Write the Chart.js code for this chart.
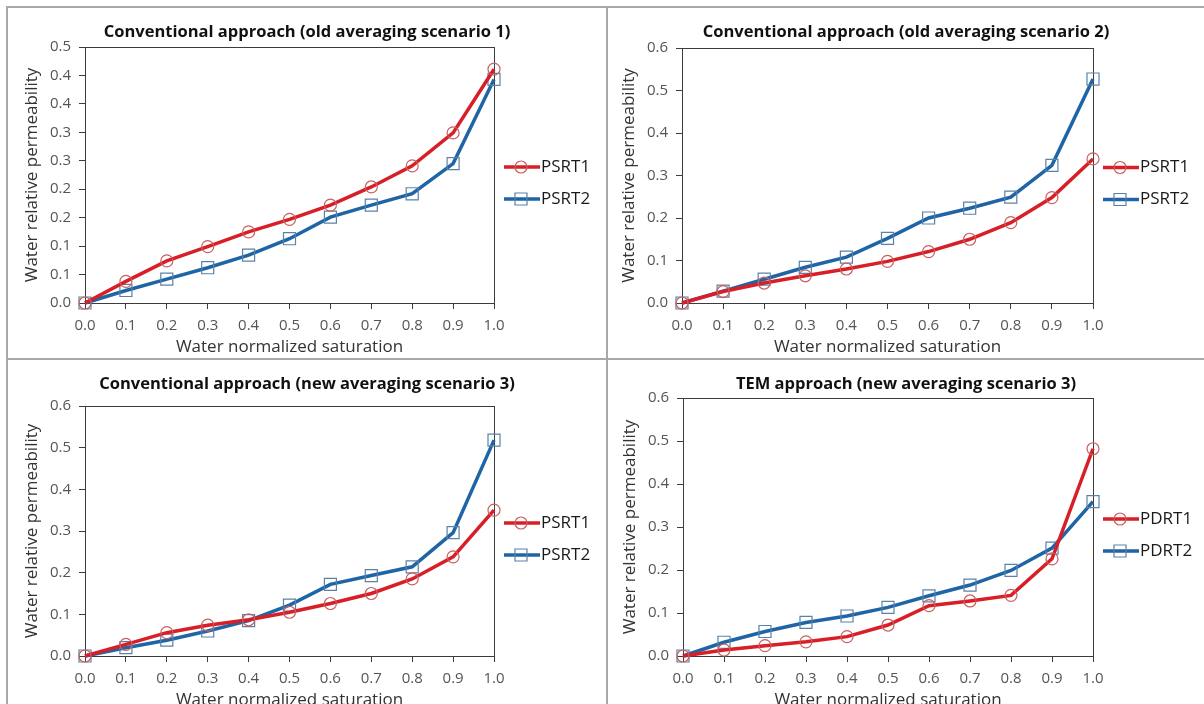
<!DOCTYPE html>
<html>
<head>
<meta charset="utf-8">
<script src="https://cdn.jsdelivr.net/npm/chart.js@4.4.0/dist/chart.umd.min.js"></script>
<style>
  body { margin: 0; background: #fff; }
  #page { position: relative; width: 1204px; height: 704px; overflow: hidden; background: #fff; }
  .frame { position: absolute; background: #a8a8a8; }
  canvas { position: absolute; }
</style>
</head>
<body>
<div id="page">
  <div class="frame" style="left:6px;top:6px;width:1198px;height:2px"></div>
  <div class="frame" style="left:6px;top:6px;width:2px;height:698px"></div>
  <div class="frame" style="left:606px;top:6px;width:2px;height:698px"></div>
  <div class="frame" style="left:6px;top:358px;width:1198px;height:2px"></div>
  <canvas id="c1" width="598" height="350" style="left:8px;top:8px"></canvas>
  <canvas id="c2" width="596" height="350" style="left:608px;top:8px"></canvas>
  <canvas id="c3" width="598" height="344" style="left:8px;top:360px"></canvas>
  <canvas id="c4" width="596" height="344" style="left:608px;top:360px"></canvas>
</div>
<script>
// data
const xValues = [0, 0.1, 0.2, 0.3, 0.4, 0.5, 0.6, 0.7, 0.8, 0.9, 1.0];
const xTickLabels = ["0.0", "0.1", "0.2", "0.3", "0.4", "0.5", "0.6", "0.7", "0.8", "0.9", "1.0"];
const yTickLabels1 = ["0.0", "0.1", "0.1", "0.2", "0.2", "0.3", "0.3", "0.4", "0.4", "0.5"];
const yTickLabels = ["0.0", "0.1", "0.2", "0.3", "0.4", "0.5", "0.6"];

const titles = [
  "Conventional approach (old averaging scenario 1)",
  "Conventional approach (old averaging scenario 2)",
  "Conventional approach (new averaging scenario 3)",
  "TEM approach (new averaging scenario 3)"
];
const psrtNames = ["PSRT1", "PSRT2"];
const pdrtNames = ["PDRT1", "PDRT2"];

const s1Psrt1 = [0, 0.038, 0.074, 0.099, 0.125, 0.147, 0.172, 0.204, 0.241, 0.299, 0.411];
const s1Psrt2 = [0, 0.022, 0.042, 0.062, 0.084, 0.113, 0.151, 0.172, 0.192, 0.245, 0.393];
const s2Psrt1 = [0, 0.027, 0.047, 0.064, 0.080, 0.098, 0.121, 0.150, 0.189, 0.248, 0.339];
const s2Psrt2 = [0, 0.028, 0.056, 0.084, 0.108, 0.152, 0.200, 0.223, 0.249, 0.324, 0.527];
const s3Psrt1 = [0, 0.028, 0.056, 0.074, 0.087, 0.105, 0.126, 0.150, 0.185, 0.238, 0.350];
const s3Psrt2 = [0, 0.020, 0.038, 0.060, 0.085, 0.122, 0.172, 0.193, 0.214, 0.296, 0.518];
const temPdrt1 = [0, 0.014, 0.024, 0.033, 0.045, 0.072, 0.117, 0.128, 0.141, 0.226, 0.482];
const temPdrt2 = [0, 0.032, 0.057, 0.078, 0.093, 0.113, 0.140, 0.165, 0.199, 0.251, 0.359];

const RED = "#d81e26", BLUE = "#1f65a6";
const RED_MK = "#c86060", BLUE_MK = "#5a82a8";
const AXIS = "#3c3c3c", TICK_TXT = "#555555";
const FONT = '"Open Sans", sans-serif';
const Y_W = 62, X_H = 40;

const pts = (ys) => xValues.map((x, i) => ({ x: x, y: ys[i] }));

// titles, axis titles, plot frame and legend
const decor = {
  id: "decor",
  beforeDatasetsDraw(chart, args, o) {
    const { ctx, chartArea: a } = chart;
    ctx.save();
    ctx.strokeStyle = AXIS;
    ctx.lineWidth = 1;
    ctx.strokeRect(Math.round(a.left) + 0.5, Math.round(a.top) + 0.5, Math.round(a.right - a.left), Math.round(a.bottom - a.top));
    ctx.restore();
  },
  afterDraw(chart, args, o) {
    const { ctx, chartArea: a, width } = chart;
    const midX = (a.left + a.right) / 2, midY = (a.top + a.bottom) / 2;
    ctx.save();
    ctx.textBaseline = "middle";
    ctx.textAlign = "center";
    ctx.fillStyle = "#111";
    ctx.font = "bold 16.5px " + FONT;
    ctx.fillText(o.title, width / 2, 24);

    ctx.fillStyle = "#333";
    ctx.font = "17px " + FONT;
    ctx.fillText("Water normalized saturation", midX, a.bottom + 44);
    ctx.save();
    ctx.translate(a.left - 53, midY);
    ctx.rotate(-Math.PI / 2);
    ctx.fillText("Water relative permeability", 0, 0);
    ctx.restore();

    chart.data.datasets.forEach((ds, i) => {
      const y = midY + (i ? 24 : -8);
      const x0 = a.right + 10, x1 = a.right + 46, xm = a.right + 27;
      ctx.strokeStyle = ds.borderColor;
      ctx.lineWidth = 3.5;
      ctx.beginPath(); ctx.moveTo(x0, y); ctx.lineTo(x1, y); ctx.stroke();
      ctx.strokeStyle = ds.pointBorderColor;
      ctx.lineWidth = 1.2;
      ctx.beginPath();
      if (ds.pointStyle === "rect") ctx.rect(xm - 6, y - 6, 12, 12);
      else ctx.arc(xm, y, 6, 0, Math.PI * 2);
      ctx.stroke();
      ctx.fillStyle = "#1a1a1a";
      ctx.textAlign = "left";
      ctx.font = "17px " + FONT;
      ctx.fillText(ds.label, x1 + 1, y);
    });
    ctx.restore();
  }
};

function makeChart(id, box, plot, title, names, s1, s2, yMax, yStep, yLabels) {
  const padding = {
    left: plot.l - box.l - Y_W,
    top: plot.t - box.t,
    right: box.l + box.w - plot.r,
    bottom: box.t + box.h - plot.b - X_H
  };
  const line = (label, data, color, mk, style, r) => ({
    label: label,
    data: pts(data),
    borderColor: color,
    borderWidth: 3.5,
    pointStyle: style,
    pointRadius: r,
    pointBorderColor: mk,
    pointBackgroundColor: "rgba(0,0,0,0)",
    pointBorderWidth: 1.2,
    tension: 0,
    clip: false
  });
  return new Chart(document.getElementById(id), {
    type: "line",
    plugins: [decor],
    data: {
      datasets: [
        line(names[0], s1, RED, RED_MK, "circle", 6),
        line(names[1], s2, BLUE, BLUE_MK, "rect", 8.5)
      ]
    },
    options: {
      responsive: false,
      animation: false,
      layout: { padding: padding },
      plugins: {
        legend: { display: false },
        title: { display: false },
        tooltip: { enabled: false },
        decor: { title: title }
      },
      scales: {
        x: {
          type: "linear",
          min: 0, max: 1,
          afterFit: (s) => { s.height = X_H; },
          grid: { drawOnChartArea: false, drawTicks: true, tickLength: 6, color: AXIS },
          border: { color: AXIS, width: 1 },
          ticks: {
            stepSize: 0.1, padding: 8, color: TICK_TXT, maxRotation: 0,
            font: { family: FONT, size: 15 },
            callback: (v, i) => xTickLabels[i]
          }
        },
        y: {
          min: 0, max: yMax,
          afterFit: (s) => { s.width = Y_W; },
          grid: { drawOnChartArea: false, drawTicks: true, tickLength: 6, color: AXIS },
          border: { color: AXIS, width: 1 },
          ticks: {
            stepSize: yStep, padding: 8, color: TICK_TXT,
            font: { family: FONT, size: 15 },
            callback: (v, i) => yLabels[i]
          }
        }
      }
    }
  });
}

makeChart("c1", { l: 8, t: 8, w: 598, h: 350 }, { l: 85, t: 47, r: 494, b: 303 },
  titles[0], psrtNames, s1Psrt1, s1Psrt2, 0.45, 0.05, yTickLabels1);
makeChart("c2", { l: 608, t: 8, w: 596, h: 350 }, { l: 682, t: 48, r: 1093, b: 303 },
  titles[1], psrtNames, s2Psrt1, s2Psrt2, 0.6, 0.1, yTickLabels);
makeChart("c3", { l: 8, t: 360, w: 598, h: 344 }, { l: 85, t: 406, r: 494, b: 656 },
  titles[2], psrtNames, s3Psrt1, s3Psrt2, 0.6, 0.1, yTickLabels);
makeChart("c4", { l: 608, t: 360, w: 596, h: 344 }, { l: 683, t: 398, r: 1093, b: 656 },
  titles[3], pdrtNames, temPdrt1, temPdrt2, 0.6, 0.1, yTickLabels);
</script>
</body>
</html>
